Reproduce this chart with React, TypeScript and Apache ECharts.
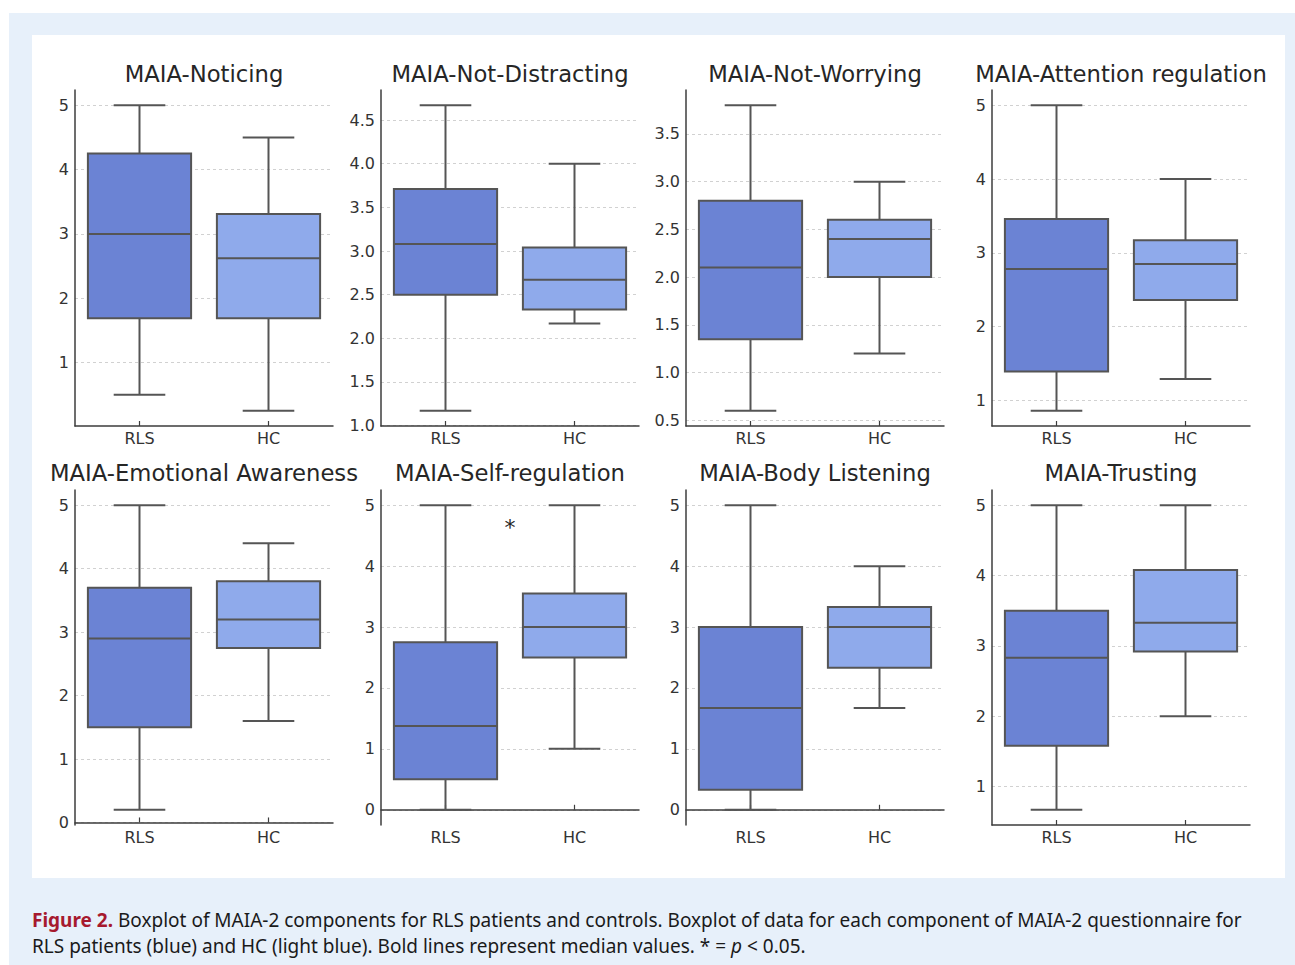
import React, { useEffect, useRef } from 'react';
import * as echarts from 'echarts';

const categories = ['RLS', 'HC'];
const subscales = [
  'MAIA-Noticing',
  'MAIA-Not-Distracting',
  'MAIA-Not-Worrying',
  'MAIA-Attention regulation',
  'MAIA-Emotional Awareness',
  'MAIA-Self-regulation',
  'MAIA-Body Listening',
  'MAIA-Trusting',
];
// [lower whisker, Q1, median, Q3, upper whisker]
const rlsStats = [
  [0.5, 1.69, 3.0, 4.25, 5.0],
  [1.17, 2.5, 3.08, 3.71, 4.67],
  [0.6, 1.35, 2.1, 2.8, 3.8],
  [0.86, 1.39, 2.78, 3.46, 5.0],
  [0.2, 1.5, 2.9, 3.7, 5.0],
  [0.0, 0.5, 1.375, 2.75, 5.0],
  [0.0, 0.33, 1.67, 3.0, 5.0],
  [0.67, 1.58, 2.83, 3.5, 5.0],
];
const hcStats = [
  [0.25, 1.69, 2.62, 3.31, 4.5],
  [2.17, 2.33, 2.67, 3.04, 4.0],
  [1.2, 2.0, 2.4, 2.6, 3.0],
  [1.29, 2.36, 2.85, 3.17, 4.0],
  [1.6, 2.75, 3.2, 3.8, 4.4],
  [1.0, 2.5, 3.0, 3.55, 5.0],
  [1.67, 2.33, 3.0, 3.33, 4.0],
  [2.0, 2.92, 3.33, 4.08, 5.0],
];
const yTickSteps = [1, 0.5, 0.5, 1, 1, 1, 1, 1];
const significance = ['', '', '', '', '', '*', '', ''];
const significanceY = [0, 0, 0, 0, 0, 4.64, 0, 0];

const captionLine1 =
  '{b|Figure 2.} Boxplot of MAIA-2 components for RLS patients and controls. Boxplot of data for each component of MAIA-2 questionnaire for';
const captionLine2 =
  'RLS patients (blue) and HC (light blue). Bold lines represent median values. * = {i|p} < 0.05.';

const boxColors = ['#6b83d4', '#8faaeb'];
const lineColor = '#555555';
const axisColor = '#3d3d3d';
const FONT = 'DejaVu Sans';
const CAPTION_FONT = 'Noto Sans';
const CAPTION_SIZE = 19;
const CAPTION_LH = 22;
const captionYs = [920, 946];

const gridLefts = [75, 381, 686, 992];
const gridTops = [90, 490];
const gridHeights = [336, 335];
const gridWidth = 258;
const titleYs = [74, 473];

function buildOption() {
  const grid: any[] = [];
  const xAxis: any[] = [];
  const yAxis: any[] = [];
  const series: any[] = [];
  const graphic: any[] = [];

  subscales.forEach((name, i) => {
    const row = Math.floor(i / 4);
    const col = i % 4;
    const left = gridLefts[col];
    const top = gridTops[row];
    const height = gridHeights[row];
    grid.push({ left, top, width: gridWidth, height, containLabel: false });

    const all = [...rlsStats[i], ...hcStats[i]];
    const dMin = Math.min(...all);
    const dMax = Math.max(...all);
    const pad = (dMax - dMin) * 0.05;
    const lo = dMin - pad;
    const hi = dMax + pad;
    const step = yTickSteps[i];

    xAxis.push({
      gridIndex: i,
      type: 'category',
      data: categories,
      boundaryGap: true,
      axisLine: { show: true, lineStyle: { color: axisColor, width: 1.5 } },
      axisTick: { show: true, alignWithLabel: true, inside: true, length: 5, lineStyle: { color: axisColor, width: 1.2 } },
      axisLabel: { margin: 4, color: '#333333', fontSize: 16, fontFamily: FONT },
      splitLine: { show: false },
    });
    yAxis.push({
      gridIndex: i,
      type: 'value',
      min: lo,
      max: hi,
      splitNumber: Math.round((hi - lo) / step),
      minInterval: step,
      maxInterval: step,
      axisLine: { show: true, lineStyle: { color: axisColor, width: 1.5 } },
      axisTick: { show: false },
      axisLabel: {
        show: true,
        showMinLabel: false,
        showMaxLabel: false,
        margin: 6,
        color: '#333333',
        fontSize: 16,
        fontFamily: FONT,
        formatter: (v: number) => (step < 1 ? v.toFixed(1) : String(Math.round(v))),
      },
      splitLine: {
        show: true,
        showMinLine: false,
        showMaxLine: false,
        lineStyle: { color: '#cccccc', type: [3, 3], width: 0.9 },
      },
    });

    series.push({
      type: 'custom',
      xAxisIndex: i,
      yAxisIndex: i,
      data: [
        [0, ...rlsStats[i]],
        [1, ...hcStats[i]],
      ],
      encode: { x: 0, y: [1, 2, 3, 4, 5] },
      renderItem: (params: any, api: any) => {
        const xi = api.value(0);
        const v = [1, 2, 3, 4, 5].map((k) => api.value(k));
        const band = api.size([1, 0])[0];
        const boxW = band * 0.8;
        const capW = boxW * 0.5;
        const p = v.map((val) => api.coord([xi, val]));
        const cx = p[0][0];
        const [yMin, yQ1, yMed, yQ3, yMax] = p.map((q) => q[1]);
        const ls = { stroke: lineColor, lineWidth: 2 };
        return {
          type: 'group',
          children: [
            { type: 'line', shape: { x1: cx, y1: yMin, x2: cx, y2: yQ1 }, style: ls },
            { type: 'line', shape: { x1: cx, y1: yQ3, x2: cx, y2: yMax }, style: ls },
            { type: 'line', shape: { x1: cx - capW / 2, y1: yMin, x2: cx + capW / 2, y2: yMin }, style: ls },
            { type: 'line', shape: { x1: cx - capW / 2, y1: yMax, x2: cx + capW / 2, y2: yMax }, style: ls },
            {
              type: 'rect',
              shape: { x: cx - boxW / 2, y: yQ3, width: boxW, height: yQ1 - yQ3 },
              style: { fill: boxColors[params.dataIndex], stroke: lineColor, lineWidth: 2 },
            },
            { type: 'line', shape: { x1: cx - boxW / 2, y1: yMed, x2: cx + boxW / 2, y2: yMed }, style: ls },
          ],
        };
      },
      z: 3,
    });

    if (significance[i]) {
      series.push({
        type: 'custom',
        xAxisIndex: i,
        yAxisIndex: i,
        data: [[0, significanceY[i]]],
        renderItem: (params: any, api: any) => {
          const val = api.value(1);
          const a = api.coord([0, val]);
          const b = api.coord([1, val]);
          return {
            type: 'text',
            x: (a[0] + b[0]) / 2,
            y: a[1],
            style: {
              text: significance[i],
              fill: '#262626',
              fontSize: 22,
              fontFamily: FONT,
              textAlign: 'center',
              textVerticalAlign: 'middle',
            },
          };
        },
        z: 4,
      });
    }

    graphic.push({
      type: 'text',
      x: left + gridWidth / 2,
      y: titleYs[row],
      style: {
        text: name,
        fill: '#262626',
        fontSize: 22.7,
        fontFamily: FONT,
        textAlign: 'center',
        textVerticalAlign: 'middle',
      },
    });
  });

  graphic.push({
    type: 'text',
    x: 32,
    y: captionYs[0],
    style: {
      text: captionLine1,
      fill: '#1a1a1a',
      fontSize: CAPTION_SIZE,
      lineHeight: CAPTION_LH,
      fontFamily: CAPTION_FONT,
      textAlign: 'left',
      textVerticalAlign: 'middle',
      rich: {
        b: { fill: '#a6192e', fontWeight: 'bold', fontSize: CAPTION_SIZE, lineHeight: CAPTION_LH, fontFamily: CAPTION_FONT },
      },
    },
  });
  graphic.push({
    type: 'text',
    x: 32,
    y: captionYs[1],
    style: {
      text: captionLine2,
      fill: '#1a1a1a',
      fontSize: CAPTION_SIZE,
      lineHeight: CAPTION_LH,
      fontFamily: CAPTION_FONT,
      textAlign: 'left',
      textVerticalAlign: 'middle',
      rich: {
        i: { fill: '#1a1a1a', fontStyle: 'italic', fontSize: CAPTION_SIZE, lineHeight: CAPTION_LH, fontFamily: CAPTION_FONT },
      },
    },
  });

  return { animation: false, backgroundColor: 'transparent', grid, xAxis, yAxis, series, graphic };
}

export default function App() {
  const ref = useRef<HTMLDivElement>(null);
  useEffect(() => {
    if (!ref.current) return;
    const chart = echarts.init(ref.current, undefined, { renderer: 'svg' });
    chart.setOption(buildOption() as any);
    return () => chart.dispose();
  }, []);
  return (
    <div style={{ position: 'absolute', left: 0, top: 0, width: 1295, height: 965, background: '#ffffff', overflow: 'hidden' }}>
      <div style={{ position: 'absolute', left: 9, top: 13, width: 1286, height: 952, background: '#e7f0fa' }} />
      <div style={{ position: 'absolute', left: 32, top: 35, width: 1253, height: 843, background: '#ffffff' }} />
      <div ref={ref} style={{ position: 'absolute', left: 0, top: 0, width: 1295, height: 965 }} />
    </div>
  );
}
